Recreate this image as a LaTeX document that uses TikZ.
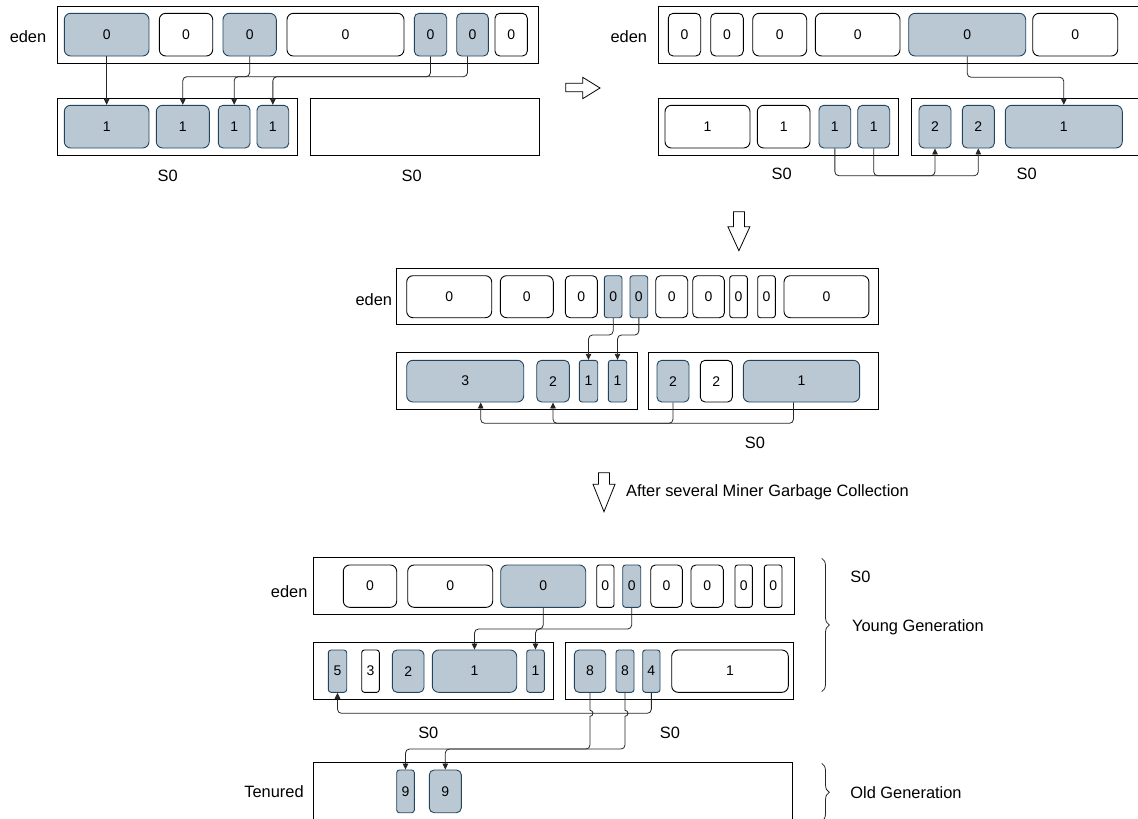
\documentclass[tikz,border=0pt]{standalone}
\usepackage{fontspec}
\setmainfont{Liberation Sans}
\usetikzlibrary{arrows.meta,decorations.pathreplacing}
\definecolor{livefill}{HTML}{BAC8D3}
\definecolor{livedraw}{HTML}{23445D}
\newcommand{\memcell}[7]{%
  \pgfmathsetmacro{\cellw}{#4-#3}%
  \pgfmathsetmacro{\cellh}{#6-#5}%
  \pgfmathsetmacro{\cellr}{min(\cellw,\cellh)*0.15}%
  \node[minimum width=\cellw pt,minimum height=\cellh pt,rounded corners=\cellr pt,#1] (#2) at ({(#3+#4)/2},{(#5+#6)/2}) {#7};}
\begin{document}
\begin{tikzpicture}[x=1pt,y=-1pt,line width=.8pt,
  region/.style={draw=black,fill=white,line width=.9pt,sharp corners,inner sep=0pt},
  obj/.style={draw=black,fill=white,line width=.9pt,inner sep=0pt,font=\fontsize{14}{16}\selectfont},
  live/.style={obj,draw=livedraw,fill=livefill},
  link/.style={draw=black!85,rounded corners=4pt,-{Triangle[length=6pt,width=5.5pt]}},
  hollow/.style={draw=black,fill=white,line join=miter},
  bracket/.style={draw=black!85,decorate,decoration={brace,amplitude=7.6pt}},
  lbl/.style={inner sep=1pt,font=\fontsize{16.4}{19}\selectfont}]
\useasboundingbox (0,0) rectangle (1138,819);
\clip (0,0) rectangle (1138,819);
\memcell{region}{p1eden}{57.3}{538.3}{6}{63}{}
\memcell{region}{p1sa}{57.3}{297.7}{98.3}{155.3}{}
\memcell{region}{p1sb}{310.3}{539}{98.3}{155.3}{}
\memcell{live}{p1e1}{64.3}{149}{13.3}{56}{0}
\memcell{obj}{p1e2}{159.3}{212.7}{13.3}{56}{0}
\memcell{live}{p1e3}{223}{276.3}{13.3}{56}{0}
\memcell{obj}{p1e4}{287}{404}{13.3}{56}{0}
\memcell{live}{p1e5}{414.3}{446.7}{13.3}{56}{0}
\memcell{live}{p1e6}{456.7}{488.3}{13.3}{56}{0}
\memcell{obj}{p1e7}{495}{527.3}{13.3}{56}{0}
\memcell{live}{p1s1}{64.3}{149}{105.3}{148}{1}
\memcell{live}{p1s2}{156.3}{209.3}{105.3}{148}{1}
\memcell{live}{p1s3}{218.3}{250}{105.3}{148}{1}
\memcell{live}{p1s4}{257}{288.7}{105.3}{148}{1}
\node[lbl] (p1eden-l) at (28,36.7) {eden};
\node[lbl] (p1sa-l) at (167.7,175.7) {S0};
\node[lbl] (p1sb-l) at (411.7,175.7) {S0};
\coordinate (p1lv) at (0,76.7);
\coordinate (p1o6) at ([xshift=-5pt]p1e6.south);
\draw[link] (p1e1.south) -- (p1s1.north);
\draw[link] (p1e3.south) -- (p1e3.south |- p1lv) -| (p1s2.north);
\draw[link] (p1e5.south) -- (p1e5.south |- p1lv) -| (p1s3.north);
\draw[link] (p1o6) -- (p1o6 |- p1lv) -| (p1s4.north);
\draw[hollow] (565.7,83.3)--(582.7,83.3)--(582.7,77.3)--(600,88)--(582.7,98.7)--(582.7,91.7)--(565.7,91.7)--cycle;
\memcell{region}{p2eden}{658.3}{1150}{6}{63}{}
\memcell{region}{p2sa}{658.3}{898.3}{98.3}{155.3}{}
\memcell{region}{p2sb}{911}{1150}{98.3}{155.3}{}
\memcell{obj}{p2e1}{668.3}{700.7}{13.3}{56}{0}
\memcell{obj}{p2e2}{710.7}{743.3}{13.3}{56}{0}
\memcell{obj}{p2e3}{752.7}{806.7}{13.3}{56}{0}
\memcell{obj}{p2e4}{815.3}{900}{13.3}{56}{0}
\memcell{live}{p2e5}{908.7}{1025.7}{13.3}{56}{0}
\memcell{obj}{p2e6}{1032.7}{1117.7}{13.3}{56}{0}
\memcell{obj}{p2s1}{665}{750}{105.3}{148}{1}
\memcell{obj}{p2s2}{757.3}{810}{105.3}{148}{1}
\memcell{live}{p2s3}{819}{850.7}{105.3}{148}{1}
\memcell{live}{p2s4}{857.7}{889.7}{105.3}{148}{1}
\memcell{live}{p2s5}{919}{951}{105.3}{148}{2}
\memcell{live}{p2s6}{962.3}{994.3}{105.3}{148}{2}
\memcell{live}{p2s7}{1005.3}{1122.3}{105.3}{148}{1}
\node[lbl] (p2eden-l) at (628.8,36.7) {eden};
\node[lbl] (p2sa-l) at (781.7,174.3) {S0};
\node[lbl] (p2sb-l) at (1026.7,174.3) {S0};
\coordinate (p2lv) at (0,77.3);
\coordinate (p2lw) at (0,175.7);
\draw[link] (p2e5.south) -- (p2e5.south |- p2lv) -| (p2s7.north);
\draw[link] (p2s3.south) -- (p2s3.south |- p2lw) -| (p2s5.south);
\draw[link] (p2s4.south) -- (p2s4.south |- p2lw) -| (p2s6.south);
\draw[hollow] (733.4,211.7)--(744.4,211.7)--(744.4,226.7)--(749.9,226.7)--(738.9,250.7)--(727.9,226.7)--(733.4,226.7)--cycle;
\memcell{region}{p3eden}{396.7}{878.2}{268.3}{324.7}{}
\memcell{region}{p3sa}{396.7}{637}{352.7}{409.7}{}
\memcell{region}{p3sb}{648.3}{878.2}{352.7}{409.7}{}
\memcell{obj}{p3e1}{406.7}{491.7}{275.7}{317.7}{0}
\memcell{obj}{p3e2}{500.3}{553.3}{275.7}{317.7}{0}
\memcell{obj}{p3e3}{565.3}{597.3}{275.7}{317.7}{0}
\memcell{live}{p3e4}{604.3}{622}{275.7}{317.7}{0}
\memcell{live}{p3e5}{630}{647.7}{275.7}{317.7}{0}
\memcell{obj}{p3e6}{655.7}{687.7}{275.7}{317.7}{0}
\memcell{obj}{p3e7}{692.7}{724.3}{275.7}{317.7}{0}
\memcell{obj}{p3e8}{729.7}{747.3}{275.7}{317.7}{0}
\memcell{obj}{p3e9}{757.7}{775.3}{275.7}{317.7}{0}
\memcell{obj}{p3e10}{784}{868.9}{275.7}{317.7}{0}
\memcell{live}{p3s1}{406.7}{523.7}{360.3}{402}{3}
\memcell{live}{p3s2}{536.7}{569.3}{360.3}{402}{2}
\memcell{live}{p3s3}{579.3}{597.7}{360.3}{402}{1}
\memcell{live}{p3s4}{608.3}{626.7}{360.3}{402}{1}
\memcell{live}{p3s5}{657}{689}{360.3}{402}{2}
\memcell{obj}{p3s6}{700.3}{732.3}{360.3}{402}{2}
\memcell{live}{p3s7}{743.3}{859.6}{360.3}{402}{1}
\node[lbl] (p3eden-l) at (373.8,300) {eden};
\node[lbl] (p3sb-l) at (755,443.3) {S0};
\coordinate (p3lv) at (0,335);
\coordinate (p3lw) at (0,423.3);
\coordinate (p3o7) at ([xshift=-8pt]p3s7.south);
\coordinate (p3o1) at ([xshift=15.5pt]p3s1.south);
\draw[link] (p3e4.south) -- (p3e4.south |- p3lv) -| (p3s3.north);
\draw[link] (p3e5.south) -- (p3e5.south |- p3lv) -| (p3s4.north);
\draw[link] (p3s5.south) -- (p3s5.south |- p3lw) -| (p3s2.south);
\draw[link] (p3o7) -- (p3o7 |- p3lw) -| (p3o1);
\draw[hollow] (598.5,472.7)--(609.5,472.7)--(609.5,484.3)--(615,484.3)--(604,511.7)--(593,484.3)--(598.5,484.3)--cycle;
\node[lbl,anchor=west] (gc-l) at (624.7,492.3) {After several Miner Garbage Collection};
\memcell{region}{p4eden}{313.3}{794}{557.3}{614}{}
\memcell{region}{p4sa}{313.3}{553.3}{642.7}{699.3}{}
\memcell{region}{p4sb}{565}{793.3}{642.7}{699.3}{}
\memcell{region}{p4ten}{313.3}{792.7}{762.7}{830}{}
\memcell{obj}{p4e1}{343.3}{396.7}{565}{607.3}{0}
\memcell{obj}{p4e2}{407.7}{492.7}{565}{607.3}{0}
\memcell{live}{p4e3}{500.7}{585.7}{565}{607.3}{0}
\memcell{obj}{p4e4}{596.7}{614}{565}{607.3}{0}
\memcell{live}{p4e5}{622.7}{640.7}{565}{607.3}{0}
\memcell{obj}{p4e6}{650.7}{682.3}{565}{607.3}{0}
\memcell{obj}{p4e7}{691}{723.3}{565}{607.3}{0}
\memcell{obj}{p4e8}{735}{752.3}{565}{607.3}{0}
\memcell{obj}{p4e9}{764.3}{782}{565}{607.3}{0}
\memcell{live}{p4s1}{328.3}{346.7}{650}{692.3}{5}
\memcell{obj}{p4s2}{361.7}{379.3}{650}{692.3}{3}
\memcell{live}{p4s3}{392.3}{424}{650}{692.3}{2}
\memcell{live}{p4s4}{432.3}{516.7}{650}{692.3}{1}
\memcell{live}{p4s5}{526.7}{544.3}{650}{692.3}{1}
\memcell{live}{p4s6}{574.3}{605.7}{650}{692.3}{8}
\memcell{live}{p4s7}{616}{634}{650}{692.3}{8}
\memcell{live}{p4s8}{642.7}{660}{650}{692.3}{4}
\memcell{obj}{p4s9}{671.7}{788.3}{650}{692.3}{1}
\memcell{live}{p4t1}{396.7}{414.3}{770}{812.7}{9}
\memcell{live}{p4t2}{429.3}{461.3}{770}{812.7}{9}
\node[lbl] (p4eden-l) at (289.2,591.7) {eden};
\node[lbl] (p4ten-l) at (274,791.7) {Tenured};
\node[lbl] (p4sa-l) at (428.3,732.7) {S0};
\node[lbl] (p4sb-l) at (670,732.7) {S0};
\coordinate (p4lv) at (0,629);
\coordinate (p4lw) at (0,713.3);
\coordinate (p4ja) at (0,710.3);
\coordinate (p4lx) at (0,749);
\draw[link] (p4e3.south) -- (p4e3.south |- p4lv) -| (p4s4.north);
\draw[link] (p4e5.south) -- (p4e5.south |- p4lv) -| (p4s5.north);
\draw[link] (p4s8.south) -- (p4s8.south |- p4lw) -| (p4s1.south);
\draw[link] (p4s6.south) [sharp corners] -- (p4s6.south |- p4ja) arc[start angle=-90,end angle=90,radius=3] [rounded corners=4pt] -- (p4s6.south |- p4lx) -| (p4t1.north);
\draw[link] (p4s7.south) [sharp corners] -- (p4s7.south |- p4ja) arc[start angle=-90,end angle=90,radius=3] [rounded corners=4pt] -- (p4s7.south |- p4lx) -| (p4t2.north);
\draw[bracket] (821.7,558.3) -- (821.7,691.7);
\draw[bracket] (821.7,763.3) -- (821.7,821.3);
\node[lbl,anchor=west] (young-s0) at (849,576.7) {S0};
\node[lbl,anchor=west] (young-l) at (850.7,627.3) {Young Generation};
\node[lbl,anchor=west] (old-l) at (849,792.3) {Old Generation};
\end{tikzpicture}
\end{document}
